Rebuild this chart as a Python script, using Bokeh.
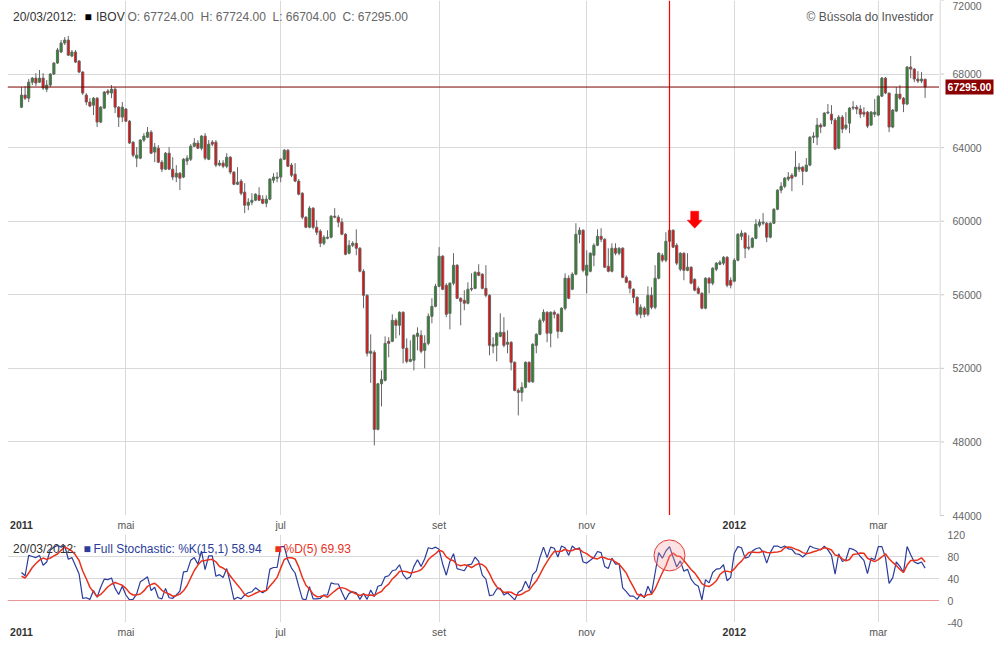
import pandas as pd
from bokeh.plotting import figure
from bokeh.layouts import column, row
from bokeh.models import Range1d, FixedTicker, Label, Span, Grid
from bokeh.core.properties import value
from bokeh.embed import file_html
from bokeh.resources import INLINE

# ---------------- data ----------------
holidays = ["2011-04-21", "2011-04-22", "2011-06-23", "2011-09-07", "2011-10-12",
            "2011-11-02", "2011-11-15", "2011-12-30", "2012-01-25", "2012-02-20", "2012-02-21"]
dates = [d for d in pd.bdate_range("2011-03-18", "2012-03-20")
         if d.strftime("%Y-%m-%d") not in holidays]

opens = [66200, 66860, 66690, 67560, 67780, 67560, 67780, 67180, 67400, 68000,
         68600, 69200, 69690, 69850, 68980, 69200, 68710, 68110, 66860, 66480,
         66310, 66690, 65390, 66150, 67080, 66970, 67180, 66200, 65660, 66100,
         65440, 64300, 63430, 63430, 64410, 64570, 64840, 63760, 63970, 63210,
         62830, 63700, 62830, 62400, 62610, 62400, 63270, 63370, 64080, 64250,
         63970, 64630, 63370, 64300, 64300, 63050, 63160, 62990, 63480, 62670,
         62010, 62180, 61580, 60870, 61030, 61140, 61410, 61200, 60980, 61200,
         62230, 62340, 62400, 63370, 63860, 63050, 62560, 62180, 61520, 60220,
         59670, 60710, 59670, 59460, 58800, 59070, 59130, 60270, 60220, 59950,
         59290, 58260, 58690, 58800, 58530, 57280, 55970, 52820, 52870, 48680,
         51160, 51350, 53470, 53470, 54610, 54340, 55050, 53090, 52380, 52440,
         53740, 53800, 52980, 53360, 54830, 55370, 56460, 58100, 56520, 54990,
         56630, 57610, 55810, 55700, 55540, 56300, 56350, 57220, 57120, 56350,
         55970, 53200, 53250, 53740, 53960, 53310, 53420, 52330, 50800, 50690,
         50970, 52330, 51270, 53250, 53850, 54610, 55050, 53910, 55050, 54940,
         54010, 55270, 56900, 56300, 57120, 59290, 59510, 57060, 57280, 58150,
         58690, 59180, 59020, 57550, 57280, 58530, 58260, 58530, 56950, 56740,
         56300, 55860, 54940, 55270, 54940, 55970, 55320, 56900, 58150, 57880,
         58910, 59510, 58690, 57390, 58260, 57330, 57500, 56840, 56350, 56080,
         55270, 56900, 56630, 57390, 57660, 57720, 58040, 56790, 56740, 57880,
         59180, 59350, 58530, 58590, 59070, 59780, 59890, 59890, 59130, 59890,
         60650, 61690, 61900, 62290, 62500, 62450, 62830, 62940, 62720, 63050,
         64570, 64570, 65230, 65170, 65880, 65820, 65500, 63970, 65660, 65060,
         65330, 66150, 66200, 66100, 65930, 65930, 65230, 65820, 65770, 66800,
         67780, 66970, 65120, 65990, 66910, 66690, 66370, 68380, 68270, 67730,
         67620, 67724]
highs = [67290, 67350, 67730, 67840, 68050, 68220, 68050, 67670, 68050, 68650,
         69420, 69850, 70010, 70070, 69310, 69310, 68760, 68160, 66970, 66690,
         66750, 66750, 66260, 67080, 67180, 67400, 67290, 66260, 66480, 66150,
         65500, 64350, 64030, 64460, 64790, 65120, 64950, 64250, 64140, 63320,
         63760, 64030, 63480, 63050, 62670, 63430, 63590, 64190, 64520, 64410,
         64680, 64790, 64410, 64410, 64410, 63320, 63320, 63700, 63540, 62720,
         62940, 62290, 62070, 61250, 61520, 61520, 61850, 61410, 61410, 62340,
         62610, 62670, 63430, 63920, 63920, 63160, 63160, 62290, 61580, 60270,
         60820, 60760, 60050, 59560, 59240, 59510, 60330, 60710, 60330, 60160,
         59350, 58970, 58910, 59560, 58590, 57390, 56030, 53850, 52980, 51210,
         51890, 53740, 53690, 54940, 54720, 55100, 55100, 53630, 53520, 53850,
         54230, 54070, 53800, 54990, 55810, 56600, 58590, 58150, 56630, 56680,
         58260, 57660, 55860, 56250, 56680, 57170, 57280, 57660, 57170, 57610,
         56030, 53690, 53960, 54990, 54780, 54070, 53470, 52380, 50910, 51240,
         52380, 52380, 53360, 53910, 54720, 55210, 55100, 55100, 55160, 54990,
         55320, 57170, 57060, 57220, 59890, 59670, 59560, 58420, 58310, 58800,
         59560, 59620, 59070, 58530, 58800, 58800, 58590, 58590, 57060, 56790,
         56350, 55920, 55480, 55370, 56460, 56410, 57610, 58310, 58260, 59400,
         59620, 59560, 58800, 58310, 58310, 58260, 57550, 56900, 56460, 56140,
         56950, 56950, 57500, 57770, 57880, 58100, 58100, 56950, 57990, 59350,
         59510, 59400, 59240, 59130, 60110, 60110, 60440, 59950, 59950, 60710,
         61740, 62120, 62400, 62670, 62610, 63810, 63160, 62990, 63430, 64620,
         64840, 65610, 65330, 65930, 66370, 66310, 65610, 65770, 65770, 65930,
         66200, 66530, 66310, 66310, 66200, 65990, 65990, 66640, 66860, 67840,
         67840, 66970, 66100, 67290, 67400, 66750, 68440, 68980, 68330, 68160,
         68110, 67724]
lows = [66150, 66590, 66480, 67400, 67350, 67510, 67130, 67020, 67290, 67950,
        68550, 69140, 69580, 68980, 68920, 68600, 68050, 66860, 66310, 66200,
        65770, 65120, 65330, 66100, 66860, 66690, 65880, 65120, 65390, 65390,
        64200, 63480, 62940, 63370, 64300, 64520, 63650, 63210, 63160, 62670,
        62780, 62780, 62230, 62120, 61690, 62340, 63050, 63270, 64030, 63920,
        63860, 63320, 63320, 64080, 62940, 62990, 62880, 62880, 62560, 61960,
        61960, 61410, 60440, 60600, 60870, 61090, 61090, 60930, 60760, 61140,
        62070, 62120, 62120, 63320, 62940, 62400, 62120, 61410, 60110, 59620,
        59620, 59560, 59240, 58590, 58690, 59020, 59070, 60160, 59670, 59240,
        58150, 58200, 58590, 58150, 57220, 55270, 52650, 51210, 47810, 48630,
        49930, 51290, 52600, 53420, 53630, 53800, 52270, 52270, 52330, 51890,
        52980, 52820, 52000, 53250, 54450, 55320, 56410, 56250, 54780, 54120,
        56520, 55760, 54340, 55160, 55480, 56190, 56300, 57010, 56300, 55860,
        52710, 52820, 52380, 53690, 53140, 52820, 51890, 50750, 49440, 50200,
        50910, 51210, 51210, 52820, 53800, 54500, 53420, 53140, 54720, 53630,
        53960, 55160, 55760, 56250, 57060, 58800, 57220, 56080, 57220, 57550,
        58640, 58860, 57450, 57220, 57220, 58150, 58150, 56900, 56630, 56080,
        55540, 54830, 54720, 54780, 54830, 55210, 55210, 56840, 57770, 57770,
        58860, 58540, 57610, 57280, 56790, 57280, 56570, 56190, 56030, 55210,
        55210, 56080, 56520, 57280, 57610, 57610, 56410, 56350, 56680, 57820,
        58970, 57990, 58420, 58530, 59020, 59670, 59780, 58860, 59070, 59840,
        60600, 61520, 61800, 62180, 61630, 62400, 62670, 61960, 62670, 62990,
        64250, 64140, 64790, 65120, 65820, 65280, 63860, 63920, 64790, 64950,
        64790, 66040, 65820, 65610, 65660, 65060, 65170, 65660, 65710, 66750,
        66910, 64840, 65060, 65930, 66590, 65930, 66310, 67780, 67560, 67510,
        67510, 66704]
closes = [66860, 66690, 67560, 67780, 67510, 67780, 67240, 67400, 68000, 68600,
          69310, 69690, 69850, 69030, 69200, 68650, 68110, 66970, 66480, 66260,
          66690, 65390, 66200, 67020, 66970, 67180, 66200, 65660, 66200, 65440,
          64250, 63590, 63590, 64410, 64630, 64840, 63700, 64030, 63210, 62830,
          63700, 62830, 62400, 62610, 62340, 63370, 63430, 64080, 64250, 63970,
          64630, 63430, 64190, 64190, 63050, 63160, 62990, 63480, 62670, 62010,
          62120, 61520, 60870, 61030, 61140, 61470, 61140, 60980, 61200, 62290,
          62400, 62400, 63370, 63860, 62990, 62500, 62180, 61470, 60220, 59670,
          60710, 59670, 59400, 58800, 59130, 59130, 60270, 60220, 59950, 59290,
          58200, 58690, 58800, 58530, 57280, 55970, 52820, 52930, 48680, 51160,
          51400, 53360, 53360, 54610, 54340, 55050, 53090, 52380, 52490, 53800,
          53910, 52930, 53360, 54830, 55370, 56460, 58100, 56300, 54940, 56630,
          57610, 55810, 55650, 55540, 56300, 56350, 57220, 57060, 56350, 55970,
          53250, 53310, 53910, 53960, 53250, 53420, 52330, 50800, 50690, 50970,
          52330, 51270, 53310, 53850, 54610, 55050, 53910, 55050, 54940, 54010,
          55270, 56900, 55810, 57120, 59290, 59510, 57330, 57610, 58260, 58690,
          59180, 59020, 57500, 57280, 58530, 58260, 58530, 56950, 56680, 56350,
          55860, 54940, 55320, 54940, 55970, 55320, 56900, 58260, 57880, 58910,
          59510, 58590, 57720, 58260, 57330, 57500, 56630, 56250, 56080, 55270,
          56900, 56630, 57440, 57720, 57770, 58040, 56520, 56520, 57880, 59290,
          59350, 58530, 58590, 59070, 59840, 59950, 59950, 59130, 59890, 60650,
          61690, 61900, 62340, 62400, 62340, 62940, 62940, 62720, 63050, 64570,
          64630, 65230, 65120, 65880, 65930, 65500, 63920, 65660, 65010, 65230,
          66150, 66200, 66100, 65820, 65820, 65170, 65930, 65930, 66800, 67780,
          66970, 65120, 66040, 66910, 66690, 66370, 68380, 68270, 67730, 67620,
          67730, 67295]

stoch_k = [51, 45, 82, 80, 78, 82, 64, 70, 92, 97, 100, 97, 100, 75, 78, 63, 48, 4, 5, 2,
           18, 6, 24, 39, 38, 41, 22, 11, 26, 10, 1, 2, 12, 34, 38, 43, 18, 24, 5, 3,
           22, 5, 4, 10, 17, 52, 53, 73, 78, 66, 90, 56, 81, 81, 44, 47, 42, 58, 32, 2,
           6, 3, 10, 14, 16, 23, 18, 14, 19, 57, 60, 60, 98, 98, 73, 59, 50, 26, 3, 1,
           25, 3, 3, 4, 10, 10, 32, 30, 30, 15, 1, 13, 16, 14, 2, 13, 2, 19, 7, 26,
           28, 43, 45, 54, 56, 65, 47, 39, 43, 62, 74, 62, 76, 96, 94, 97, 93, 66, 46, 71,
           85, 58, 56, 54, 65, 66, 79, 71, 46, 39, 9, 10, 21, 22, 10, 14, 8, 1, 15, 19,
           35, 22, 47, 54, 78, 97, 78, 97, 95, 79, 99, 96, 82, 99, 93, 96, 70, 68, 73, 78,
           89, 87, 62, 58, 77, 66, 67, 23, 16, 8, 8, 2, 12, 5, 26, 12, 50, 87, 77, 90,
           98, 79, 61, 72, 53, 57, 39, 30, 26, 1, 38, 32, 51, 57, 58, 65, 36, 42, 86, 98,
           96, 77, 79, 90, 94, 96, 88, 68, 87, 99, 99, 96, 99, 94, 93, 85, 84, 79, 85, 99,
           96, 94, 92, 99, 92, 82, 48, 85, 71, 74, 95, 93, 89, 80, 73, 49, 77, 74, 98, 98,
           78, 31, 41, 70, 62, 51, 98, 83, 70, 67, 70, 58.94]
stoch_d = [44, 41, 50, 60, 67.2, 73.4, 77.2, 74.8, 77.2, 81, 84.6, 91.2, 97.2, 93.8, 90, 82.6,
           72.8, 53.6, 39.6, 24.4, 15.4, 7, 11, 17.8, 25, 29.6, 32.8, 30.2, 27.6, 22, 14, 10,
           10.2, 11.8, 17.4, 25.8, 29, 31.4, 25.6, 18.6, 14.4, 11.8, 7.8, 8.8, 11.6, 17.6, 27.2, 41,
           54.6, 64.4, 72, 72.6, 74.2, 74.8, 70.4, 61.8, 59, 54.4, 44.6, 36.2, 28, 20.2, 10.6, 7,
           9.8, 13.2, 16.2, 17, 18, 26.2, 33.6, 42, 58.8, 74.6, 77.8, 77.6, 75.6, 61.2, 42.2, 27.8,
           21, 11.6, 7, 7.2, 9, 6, 11.8, 17.2, 22.4, 23.4, 21.6, 17.8, 15, 11.8, 9.2, 11.6,
           9.4, 10, 8.6, 13.4, 16.4, 24.6, 29.8, 39.2, 45.2, 52.6, 53.4, 52.2, 50, 51.2, 53, 56,
           63.4, 74, 80.4, 85, 91.2, 89.2, 79.2, 74.6, 72.2, 65.2, 63.2, 64.8, 63.6, 59.8, 64, 67,
           65.4, 60.2, 48.8, 35, 25, 20.2, 14.4, 15.4, 15, 11, 9.6, 11.4, 15.6, 18.4, 27.6, 35.4,
           47.2, 59.6, 70.8, 80.8, 89, 89.2, 89.6, 93.2, 90.2, 91, 93.8, 93.2, 88, 85.2, 80, 77,
           75.6, 79, 77.8, 74.8, 74.6, 70, 66, 58.2, 49.8, 36, 24.4, 11.4, 9.2, 7, 10.6, 11.4,
           21, 36, 50.4, 63.2, 80.4, 86.2, 81, 80, 72.6, 64.4, 56.4, 50.2, 41, 30.6, 26.8, 25.4,
           29.6, 35.8, 47.2, 52.6, 53.4, 51.6, 57.4, 65.4, 71.6, 79.8, 87.2, 88, 87.2, 87.2, 89.4, 87.2,
           86.6, 87.6, 88.2, 89.8, 96, 97.4, 96.2, 93.4, 91, 87, 85.2, 86.4, 88.6, 90.6, 93.2, 96,
           94.6, 91.8, 82.6, 81.2, 75.6, 72, 74.6, 83.6, 84.4, 86.2, 86, 76.8, 73.6, 70.6, 74.2, 79.2,
           85, 75.8, 69.2, 63.6, 56.4, 51, 64.4, 72.8, 72.8, 73.8, 77.6, 69.93]

tick_months = ["2011-03", "2011-05", "2011-07", "2011-09", "2011-11", "2012-01", "2012-03"]
tick_labels = ["2011", "mai", "jul", "set", "nov", "2012", "mar"]
price_ticks = [44000, 48000, 52000, 56000, 60000, 64000, 68000, 72000]
stoch_ticks = [-40, 0, 40, 80, 120]
last_price = 67295.00
marker_date = "2011-12-06"      # red vertical line / circle
circle_value = 82
arrow_date = "2011-12-15"
arrow_tip_price = 59620

# ---------------- derived positions ----------------
n = len(opens)
dates = dates[:n]
xs = list(range(n))
date_str = [d.strftime("%Y-%m-%d") for d in dates]
tick_idx = [next(i for i, d in enumerate(dates) if d.strftime("%Y-%m") == m) for m in tick_months]
grid_idx = tick_idx[1:]
marker_x = date_str.index(marker_date)
arrow_x = date_str.index(arrow_date)

UP, DOWN, EDGE = "#1F8F1F", "#FF0000", "#666666"
FONT = "Liberation Sans"
GRID = "#D9D9D9"
X0, X1 = -3.89, 255.0
FRAME_W, H_MAIN, H_GAP, H_STO, H_BOT, W_RIGHT = 932, 515, 19, 88, 28, 61
P_MIN, P_MAX, S_MIN, S_MAX = 44000, 72000, -40, 120
ppx = (P_MAX - P_MIN) / H_MAIN      # price units per pixel
spx = (S_MAX - S_MIN) / H_STO       # stochastic units per pixel

body_top = [max(o, c) for o, c in zip(opens, closes)]
body_bot = [min(o, c) for o, c in zip(opens, closes)]
body_col = [UP if c >= o else DOWN for o, c in zip(opens, closes)]


def make_fig(width, height, x_range, y_range, left=0, right=0):
    f = figure(width=width, height=height, x_range=x_range, y_range=y_range,
               x_axis_location=None, y_axis_location=None, output_backend="svg",
               toolbar_location=None, min_border=0, min_border_left=left,
               min_border_right=right, min_border_top=0, min_border_bottom=0)
    f.grid.visible = False
    f.outline_line_color = None
    f.background_fill_color = "white"
    f.border_fill_color = "white"
    return f


xr = Range1d(X0, X1)

# ---------------- main candlestick panel ----------------
p1 = make_fig(7 + FRAME_W, H_MAIN, xr, Range1d(P_MIN, P_MAX), left=7)
p1.add_layout(Grid(dimension=0, ticker=FixedTicker(ticks=grid_idx), grid_line_color=GRID))
p1.add_layout(Grid(dimension=1, ticker=FixedTicker(ticks=price_ticks[1:-1]), grid_line_color=GRID))

p1.segment(x0=xs, y0=highs, x1=xs, y1=lows, line_color=EDGE, line_width=1)
p1.vbar(x=xs, top=body_top, bottom=body_bot, width=0.6, fill_color=body_col,
        line_color=EDGE, line_width=1)

# red marker line (thin filled bar so it keeps its colour)
p1.rect(x=[marker_x], y=[(P_MIN + P_MAX) / 2], width=1.2, width_units="screen",
        height=P_MAX - P_MIN, fill_color="#FF0000", line_color=None)
p1.add_layout(Span(location=last_price, dimension="width", line_color="#7A0000", line_width=1))

px = (X1 - X0) / FRAME_W
shape = [(0, 0), (7.5, 8), (4, 8), (4, 17), (-4, 17), (-4, 8), (-7.5, 8)]
p1.patch([arrow_x + sx * px for sx, sy in shape],
         [arrow_tip_price + sy * ppx for sx, sy in shape],
         fill_color="#FF0000", line_color="#FF0000", line_width=0.5)

top_y = H_MAIN - 16
legend_items = [
    (5.5, "20/03/2012:", "#333333"),
    (77, "\u25A0", "#000000"),
    (88.5, "IBOV", "#333333"),
    (120, "O: 67724.00", "#666666"),
    (193, "H: 67724.00", "#666666"),
    (265, "L: 66704.00", "#666666"),
    (335, "C: 67295.00", "#666666"),
]
for lx, txt, col in legend_items:
    p1.add_layout(Label(x=lx, y=top_y, x_units="screen", y_units="screen", text=txt,
                        text_font=FONT, text_font_size="12px", text_color=col,
                        text_align="left", text_baseline="middle"))
p1.add_layout(Label(x=926, y=top_y, x_units="screen", y_units="screen",
                    text="\u00A9 B\u00FAssola do Investidor", text_font=FONT,
                    text_font_size="12px", text_color="#555555", text_align="right",
                    text_baseline="middle"))

# right axis strip for main panel (extends 10px below the panel so "44000" is whole)
r1 = make_fig(W_RIGHT, H_MAIN + 10, Range1d(0, W_RIGHT), Range1d(P_MIN - 10 * ppx, P_MAX))
r1.segment(x0=[0.5], y0=[P_MIN], x1=[0.5], y1=[P_MAX], line_color="#CCCCCC", line_width=1)
r1.segment(x0=[0.5] * len(price_ticks), y0=price_ticks, x1=[4.5] * len(price_ticks),
           y1=price_ticks, line_color="#CCCCCC", line_width=1)
inner = [t for t in price_ticks if t < P_MAX]
r1.text(x=[13] * len(inner), y=inner, text=[str(t) for t in inner],
        text_font=value(FONT), text_font_size=value("10.5px"), text_color="#666666",
        text_align="left", text_baseline="middle")
r1.text(x=[13], y=[P_MAX], text=[str(P_MAX)], y_offset=5,
        text_font=value(FONT), text_font_size=value("10.5px"), text_color="#666666",
        text_align="left", text_baseline="middle")
r1.rect(x=[30], y=[last_price], width=48, height=15, height_units="screen",
        fill_color="#8B0000", line_color=None)
r1.text(x=[30], y=[last_price], text=["{:.2f}".format(last_price)],
        text_font=value(FONT), text_font_size=value("10.5px"), text_font_style="bold",
        text_color="white", text_align="center", text_baseline="middle")


def tick_strip(height, label_y):
    s = make_fig(7 + FRAME_W, height, xr, Range1d(0, height), left=7)
    normal = [(t, l) for t, l in zip(tick_idx, tick_labels) if not l.isdigit()]
    bold = [(t, l) for t, l in zip(tick_idx, tick_labels) if l.isdigit()]
    s.text(x=[t for t, l in normal], y=[label_y] * len(normal), text=[l for t, l in normal],
           text_font=value(FONT), text_font_size=value("10.5px"), text_color="#555555",
           text_align="center", text_baseline="middle")
    s.text(x=[t for t, l in bold], y=[label_y] * len(bold), text=[l for t, l in bold],
           text_font=value(FONT), text_font_size=value("10.5px"), text_font_style="bold",
           text_color="#333333", text_align="center", text_baseline="middle")
    return s


s1 = tick_strip(H_GAP, H_GAP - 9)

# ---------------- stochastic panel ----------------
p2 = make_fig(7 + FRAME_W, H_STO, xr, Range1d(S_MIN, S_MAX), left=7)
p2.add_layout(Grid(dimension=0, ticker=FixedTicker(ticks=grid_idx), grid_line_color=GRID))
p2.add_layout(Grid(dimension=1, ticker=FixedTicker(ticks=[40, 80]), grid_line_color=GRID))
p2.add_layout(Span(location=0, dimension="width", line_color="#E89595", line_width=1))

K_COL, D_COL = "#2B3C9B", "#E8321E"
p2.line(xs, stoch_k, line_color=K_COL, line_width=1.2)
p2.line(xs, stoch_d, line_color=D_COL, line_width=1.5)
p2.scatter([marker_x], [circle_value], marker="circle", size=31, fill_color="#F4A0A0",
           fill_alpha=0.3, line_color="#E53935", line_width=1)

leg_y = 73.5
stoch_items = [
    (5.5, "20/03/2012:", "#333333"),
    (76, "\u25A0", K_COL),
    (86, "Full Stochastic: %K(15,1) " + "{:.2f}".format(stoch_k[-1]), K_COL),
    (267, "\u25A0", D_COL),
    (276, "%D(5) " + "{:.2f}".format(stoch_d[-1]), D_COL),
]
for lx, txt, col in stoch_items:
    p2.add_layout(Label(x=lx, y=leg_y, x_units="screen", y_units="screen", text=txt,
                        text_font=FONT, text_font_size="12px", text_color=col,
                        text_align="left", text_baseline="middle"))

s2 = tick_strip(H_BOT, H_BOT - 9)

# right axis strip for stochastic panel (covers 9px above and the bottom strip)
r2_h = H_GAP - 10 + H_STO + H_BOT
r2 = make_fig(W_RIGHT, r2_h, Range1d(0, W_RIGHT),
              Range1d(S_MIN - H_BOT * spx, S_MAX + (H_GAP - 10) * spx))
r2.text(x=[8] * len(stoch_ticks), y=stoch_ticks, text=[str(t) for t in stoch_ticks],
        text_font=value(FONT), text_font_size=value("10.5px"), text_color="#666666",
        text_align="left", text_baseline="middle")

left_col = column(p1, s1, p2, s2, spacing=0)
right_col = column(r1, r2, spacing=0)
layout = row(left_col, right_col, spacing=0)
open("out.html", "w").write(file_html(layout, INLINE))
